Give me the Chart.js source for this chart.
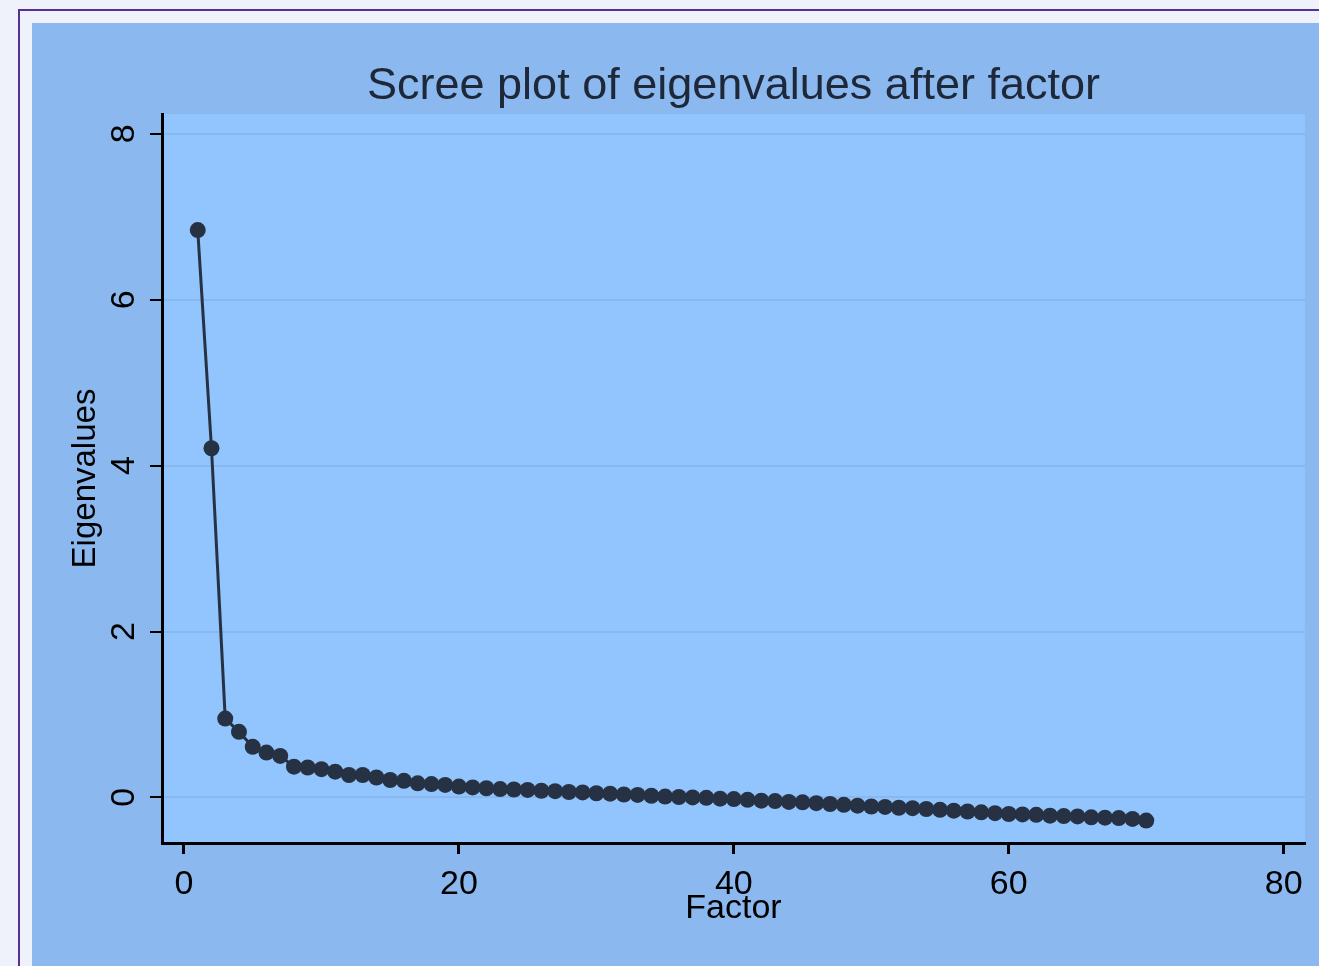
<!DOCTYPE html>
<html><head><meta charset="utf-8">
<script src="https://cdn.jsdelivr.net/npm/chart.js@4.4.0/dist/chart.umd.min.js"></script>
<style>
html,body{margin:0;padding:0;width:1319px;height:966px;overflow:hidden;background:#eff2fb;}
#frame{position:absolute;left:18px;top:9px;width:1400px;height:1000px;border-left:2px solid #553196;border-top:2px solid #553196;}
#wrap{position:absolute;left:32px;top:23px;width:1287px;height:943px;background:#8ab8ef;}
</style></head><body>
<div id="frame"></div>
<div id="wrap"><canvas id="c"></canvas></div>
<script>
const factors = [1,2,3,4,5,6,7,8,9,10,11,12,13,14,15,16,17,18,19,20,21,22,23,24,25,26,27,28,29,30,31,32,33,34,35,36,37,38,39,40,41,42,43,44,45,46,47,48,49,50,51,52,53,54,55,56,57,58,59,60,61,62,63,64,65,66,67,68,69,70];
const eigenvalues = [6.84,4.21,0.95,0.79,0.61,0.54,0.50,0.37,0.36,0.34,0.31,0.27,0.27,0.24,0.21,0.20,0.17,0.16,0.15,0.13,0.12,0.11,0.10,
  0.095,0.09,0.08,0.075,0.065,0.06,0.05,0.045,0.035,0.03,0.02,0.01,0.005,0.00,-0.005,-0.015,-0.02,-0.03,-0.04,-0.045,-0.055,-0.06,-0.07,
  -0.08,-0.09,-0.10,-0.11,-0.115,-0.125,-0.13,-0.14,-0.15,-0.16,-0.17,-0.18,-0.19,-0.20,-0.205,-0.21,-0.22,-0.225,-0.23,-0.24,-0.245,-0.25,-0.26,-0.28];
const xTicks = [0,20,40,60,80];
const yTicks = [0,2,4,6,8];
const titleText = 'Scree plot of eigenvalues after factor';
const xTitle = 'Factor';
const yTitle = 'Eigenvalues';

const FAMILY = '"Liberation Sans", Arial, sans-serif';
const plotBg = {
  id: 'plotBg',
  beforeDraw(chart) {
    const {ctx, chartArea: a} = chart;
    ctx.save();
    ctx.fillStyle = '#92c4fd';
    ctx.fillRect(a.left, a.top, a.right - a.left, a.bottom - a.top);
    ctx.restore();
  }
};

new Chart(document.getElementById('c'), {
  type: 'scatter',
  data: {
    datasets: [{
      data: factors.map((f, i) => ({x: f, y: eigenvalues[i]})),
      showLine: true,
      borderColor: '#263244',
      borderWidth: 3,
      pointRadius: 8,
      pointStyle: 'circle',
      pointBackgroundColor: '#263244',
      pointBorderWidth: 0,
      tension: 0
    }]
  },
  options: {
    responsive: true,
    maintainAspectRatio: false,
    animation: false,
    layout: {padding: {left: 0, right: 14, top: 0, bottom: 0}},
    plugins: {
      legend: {display: false},
      tooltip: {enabled: false},
      title: {
        display: true, text: titleText, fullSize: false,
        color: '#1e2838', font: {family: FAMILY, size: 45, weight: 'normal'},
        padding: {top: 37, bottom: 0}
      }
    },
    scales: {
      x: {
        type: 'linear', min: -1.6, max: 81.55,
        afterBuildTicks: s => { s.ticks = xTicks.map(v => ({value: v})); },
        afterFit: s => { s.height = 123; },
        grid: {display: true, drawOnChartArea: false, drawTicks: true, tickLength: 11, tickWidth: 3, tickColor: '#000'},
        border: {display: true, color: '#000', width: 3},
        ticks: {font: {family: FAMILY, size: 34}, color: '#000', padding: 10, maxRotation: 0, minRotation: 0},
        title: {display: true, text: xTitle, color: '#000', font: {family: FAMILY, size: 34}, padding: {top: 0, bottom: 37}}
      },
      y: {
        type: 'linear', min: -0.55, max: 8.24,
        afterBuildTicks: s => { s.ticks = yTicks.map(v => ({value: v})); },
        afterFit: s => { s.width = 130; },
        grid: {display: true, drawOnChartArea: true, color: '#89b7ee', lineWidth: 2, drawTicks: true, tickLength: 12, tickWidth: 2, tickColor: '#000'},
        border: {display: true, color: '#000', width: 3},
        ticks: {font: {family: FAMILY, size: 34}, color: '#000', padding: 16, minRotation: 90, maxRotation: 90, crossAlign: 'center'},
        title: {display: true, text: yTitle, color: '#000', font: {family: FAMILY, size: 33}, padding: {top: 34, bottom: 0}}
      }
    }
  },
  plugins: [plotBg]
});
</script>
</body></html>
